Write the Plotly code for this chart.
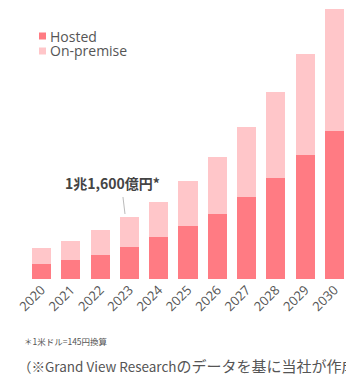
import plotly.graph_objects as go

# Market size by deployment type, in 億円 (1 USD = 145 JPY)
years = [2020, 2021, 2022, 2023, 2024, 2025, 2026, 2027, 2028, 2029, 2030]
hosted = [2800, 3550, 4490, 6000, 7860, 9920, 12160, 15340, 18900, 23200, 27690]
on_premise = [2990, 3550, 4670, 5600, 6550, 8420, 10660, 13100, 16090, 18900, 22830]
series_names = ["Hosted", "On-premise"]
callout_year = 2023
callout_text = "1兆1,600億円*"
footnote = "＊1米ドル=145円換算"
source_head = "（※Grand View Research"
source_tail = "のデータを基に当社が作成）"

HOSTED_COLOR = "#FF7B83"
ONPREM_COLOR = "#FFC6C9"
TEXT_COLOR = "#555555"
FONT = "Open Sans, Noto Sans CJK JP, sans-serif"
CJK_FONT = "Noto Sans CJK JP, sans-serif"

fig = go.Figure()
fig.add_bar(x=years, y=hosted, name=series_names[0], marker_color=HOSTED_COLOR,
            marker_line_width=0, width=0.65, showlegend=False)
fig.add_bar(x=years, y=on_premise, name=series_names[1], marker_color=ONPREM_COLOR,
            marker_line_width=0, width=0.65, showlegend=False)

# callout line and label above the 2023 bar
idx = years.index(callout_year)
total = hosted[idx] + on_premise[idx]
fig.add_shape(type="line", xref="x", yref="y",
              x0=callout_year - 0.15, x1=callout_year - 0.22,
              y0=total + 560, y1=total + 3740,
              line=dict(color="#BBBBBB", width=1))
fig.add_annotation(x=callout_year - 0.59, y=total + 6360, xref="x", yref="y",
                   text="<b>" + callout_text + "</b>", showarrow=False,
                   font=dict(family=CJK_FONT, size=14, color="#444444"),
                   xanchor="center", yanchor="middle")

# legend drawn as swatches with labels
legend_rows = [(series_names[0], HOSTED_COLOR, 36), (series_names[1], ONPREM_COLOR, 51)]
for label, color, ypx in legend_rows:
    fig.add_shape(type="rect", xref="paper", yref="paper",
                  x0=(39 - 27) / 319, x1=(46 - 27) / 319,
                  y0=(279 - ypx - 3.5) / 279, y1=(279 - ypx + 3.5) / 279,
                  fillcolor=color, line_width=0)
    fig.add_annotation(x=(49 - 27) / 319, y=(279 - ypx) / 279, xref="paper", yref="paper",
                       text=label, showarrow=False, xanchor="left", yanchor="middle",
                       borderpad=0,
                       font=dict(family=FONT, size=14, color=TEXT_COLOR))

fig.add_annotation(x=(22 - 27) / 319, y=(279 - 341) / 279, xref="paper", yref="paper",
                   text=footnote, showarrow=False, xanchor="left", yanchor="middle",
                   font=dict(family=CJK_FONT, size=8.5, color=TEXT_COLOR))
fig.add_annotation(x=(16 - 27) / 319, y=(279 - 365) / 279, xref="paper", yref="paper",
                   text=source_head + '<span style="font-size:15px">' + source_tail + "</span>",
                   showarrow=False, xanchor="left", yanchor="middle",
                   font=dict(family=CJK_FONT, size=13.5, color=TEXT_COLOR))

fig.update_layout(
    barmode="stack",
    width=346, height=378,
    margin=dict(l=27, r=0, t=0, b=99),
    plot_bgcolor="white", paper_bgcolor="white",
    xaxis=dict(range=[2019.505, 2030.392], tickvals=years, ticktext=[str(y) for y in years],
               tickangle=-45, showgrid=False, zeroline=False, showline=False, ticks="",
               tickfont=dict(family=FONT, size=13, color=TEXT_COLOR)),
    yaxis=dict(range=[0, 52200], visible=False, showgrid=False),
    font=dict(family=FONT),
)

fig.write_html("out.html")
